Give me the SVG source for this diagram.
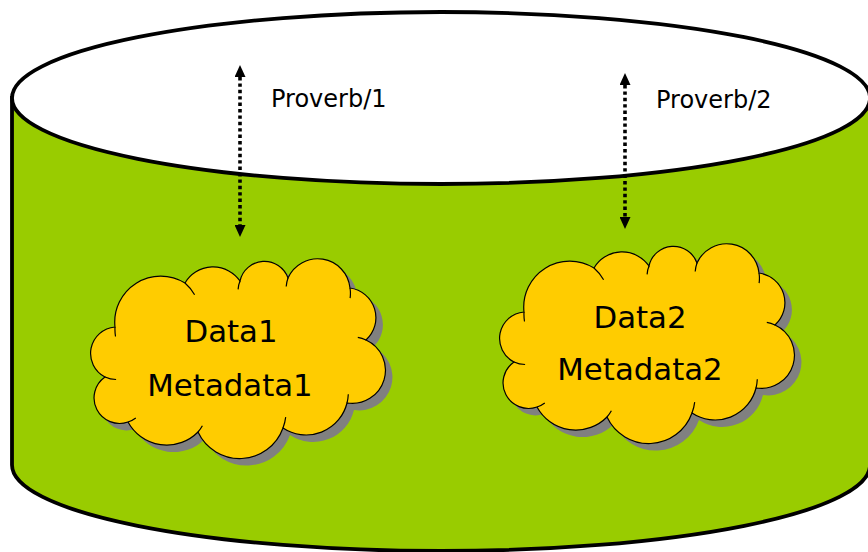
<svg xmlns="http://www.w3.org/2000/svg" xmlns:xlink="http://www.w3.org/1999/xlink" width="868" height="552" viewBox="0 0 868 552">
<style>
.body{fill:#99CC00;stroke:#000;stroke-width:3.8}
.top{fill:#fff;stroke:#000;stroke-width:3.8}
.shadow{fill:#808080;stroke:none}
.cloud{fill:#FFCC00;stroke:#000;stroke-width:1.2}
.seam{fill:none;stroke:#000;stroke-width:1.2}
.conn{stroke:#000;stroke-width:3.6;stroke-dasharray:3.4 3;fill:none}
.lbl{font-family:"DejaVu Sans",Verdana,sans-serif;font-size:24px;fill:#000}
.ntext{font-family:"DejaVu Sans",Verdana,sans-serif;font-size:30.8px;fill:#000;text-anchor:middle}
</style>
<defs>
<marker id="ah" viewBox="0 0 12 11" refX="0" refY="5.5" markerWidth="12" markerHeight="11" markerUnits="userSpaceOnUse" orient="auto-start-reverse">
<path d="M0,0 L12,5.5 L0,11 Z" fill="#000"/>
</marker>
<path id="cloudShape" d="M115,327 A46,46 0 0 1 185,283 A32.7,32.7 0 0 1 240,281 A25,25 0 0 1 288,278 A32.5,32.5 0 0 1 350,288 A30,30 0 0 1 366,340 A33.2,33.2 0 0 1 347,403 A42,42 0 0 1 283,428 A46,46 0 0 1 198,432 A44,44 0 0 1 128,422 A25.5,25.5 0 0 1 105,377 A26.5,26.5 0 0 1 115,327 Z"/>
<path id="cloudSeams" d="M185,283 A46,46 0 0 1 194.6,294.7 M238.1,289.4 A25,25 0 0 1 240,281 M286.2,286.5 A32.5,32.5 0 0 1 288,278 M350,288 A32.5,32.5 0 0 1 350.1,298.1 M357.8,337.4 A33.2,33.2 0 0 1 366,340 M348.3,394.3 A42,42 0 0 1 347,403 M285.7,417.1 A46,46 0 0 1 283,428 M202.4,425.7 A44,44 0 0 1 198,432 M135.8,418 A25.5,25.5 0 0 1 128,422 M116.1,379.5 A26.5,26.5 0 0 1 105,377 M115.5,336.5 A46,46 0 0 1 115,327"/>
</defs>
<g id="cylinder">
<path class="body" d="M12,98 L12,465 A429,86 0 0 0 870,465 L870,98 Z"/>
<ellipse class="top" cx="441" cy="98" rx="429" ry="86"/>
</g>
<g id="connectors">
<line class="conn" x1="240" y1="77" x2="240" y2="225" marker-start="url(#ah)" marker-end="url(#ah)"/>
<line class="conn" x1="625" y1="85" x2="625" y2="217" marker-start="url(#ah)" marker-end="url(#ah)"/>
</g>
<g id="label1"><text class="lbl" x="271" y="107">Proverb/1</text></g>
<g id="label2"><text class="lbl" x="656" y="108">Proverb/2</text></g>
<g id="cloud1">
<use xlink:href="#cloudShape" class="shadow" transform="translate(7,7)"/>
<use xlink:href="#cloudShape" class="cloud"/>
<use xlink:href="#cloudSeams" class="seam"/>
<text class="ntext" x="231" y="342">Data1</text>
<text class="ntext" x="230" y="396">Metadata1</text>
</g>
<g id="cloud2">
<g transform="translate(409,-15)">
<use xlink:href="#cloudShape" class="shadow" transform="translate(7,7)"/>
<use xlink:href="#cloudShape" class="cloud"/>
<use xlink:href="#cloudSeams" class="seam"/>
</g>
<text class="ntext" x="640" y="328">Data2</text>
<text class="ntext" x="640" y="380">Metadata2</text>
</g>
</svg>
